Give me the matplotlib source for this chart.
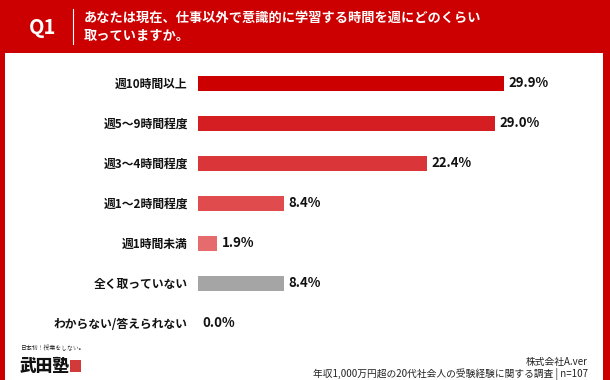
import matplotlib
matplotlib.use("Agg")
import matplotlib.pyplot as plt
from matplotlib.patches import Rectangle

plt.rcParams['font.family'] = ['Noto Sans CJK JP', 'DejaVu Sans']

categories = ["週10時間以上", "週5〜9時間程度", "週3〜4時間程度", "週1〜2時間程度",
              "週1時間未満", "全く取っていない", "わからない/答えられない"]
values = [29.9, 29.0, 22.4, 8.4, 1.9, 8.4, 0.0]
bar_colors = ["#cc0000", "#d41e22", "#da3538", "#e04b4e", "#e66b6d", "#a5a5a5", "#a5a5a5"]
title_lines = ["あなたは現在、仕事以外で意識的に学習する時間を週にどのくらい", "取っていますか。"]
q_label = "Q1"
source_lines = ["株式会社A.ver", "年収1,000万円超の20代社会人の受験経験に関する調査 | n=107"]

W, H = 610, 380
RED = "#cc0000"
fig = plt.figure(figsize=(W / 100, H / 100), dpi=100)
fig.patch.set_facecolor(RED)

def fx(px):
    return px / W

def fy(py):
    return 1 - py / H

# white panel
fig.patches.append(Rectangle((fx(5), 0), fx(603) - fx(5), fy(53), transform=fig.transFigure,
                             facecolor="white", edgecolor="none", zorder=-5))

# header
fig.text(fx(43), fy(27), q_label, color="white", fontsize=14.5, fontweight="bold",
         ha="center", va="center", family=['Noto Sans CJK JP', 'DejaVu Sans'])
fig.add_artist(plt.Line2D([fx(73), fx(73)], [fy(9), fy(44)], color="white", lw=0.8,
                          transform=fig.transFigure))
fig.text(fx(84), fy(18), title_lines[0], color="white", fontsize=9.5, fontweight="bold",
         ha="left", va="center")
fig.text(fx(84), fy(36), title_lines[1], color="white", fontsize=9.5, fontweight="bold",
         ha="left", va="center")

# bars axes: x 0..40 maps 197.5..607.5 px ; y rows centers 83..323
ax_left, ax_right = 197.5, 197.5 + 410
ax_top, ax_bot = 63, 343
ax = fig.add_axes([fx(ax_left), fy(ax_bot), fx(ax_right) - fx(ax_left), fy(ax_top) - fy(ax_bot)],
                  zorder=2)
ax.set_facecolor("none")
ax.set_xlim(0, 40)
ax.set_ylim(len(categories) - 0.5, -0.5)
ypos = list(range(len(categories)))
ax.barh(ypos, values, height=0.375, color=bar_colors)
for y, v in zip(ypos, values):
    ax.text(v + 0.45, y, f"{v:.1f}%", ha="left", va="center", fontsize=9.5, fontweight="bold",
            color="#111111")
ax.set_yticks(ypos)
ax.set_yticklabels(categories, fontsize=8.5, fontweight="bold", color="#111111")
ax.tick_params(axis="y", length=0, pad=7)
ax.set_xticks([])
for s in ax.spines.values():
    s.set_visible(False)

# footer source
fig.text(fx(588), fy(362), source_lines[0], ha="right", va="center", fontsize=7, color="#222222")
fig.text(fx(588), fy(374), source_lines[1], ha="right", va="center", fontsize=7, color="#222222")

# logo
fig.text(fx(21), fy(348), "日本初！授業をしない。", ha="left", va="center", fontsize=4.2,
         color="#111111", family=['Noto Serif CJK JP', 'Noto Sans CJK JP', 'DejaVu Sans'])
fig.text(fx(20), fy(366), "武田塾", ha="left", va="center", fontsize=12, fontweight="heavy",
         color="#111111")
fig.patches.append(Rectangle((fx(70), fy(372)), fx(11), fy(360) - fy(372), transform=fig.transFigure,
                             facecolor="#d23a3a", edgecolor="none"))

fig.savefig("out.png", dpi=100, facecolor=fig.get_facecolor())
